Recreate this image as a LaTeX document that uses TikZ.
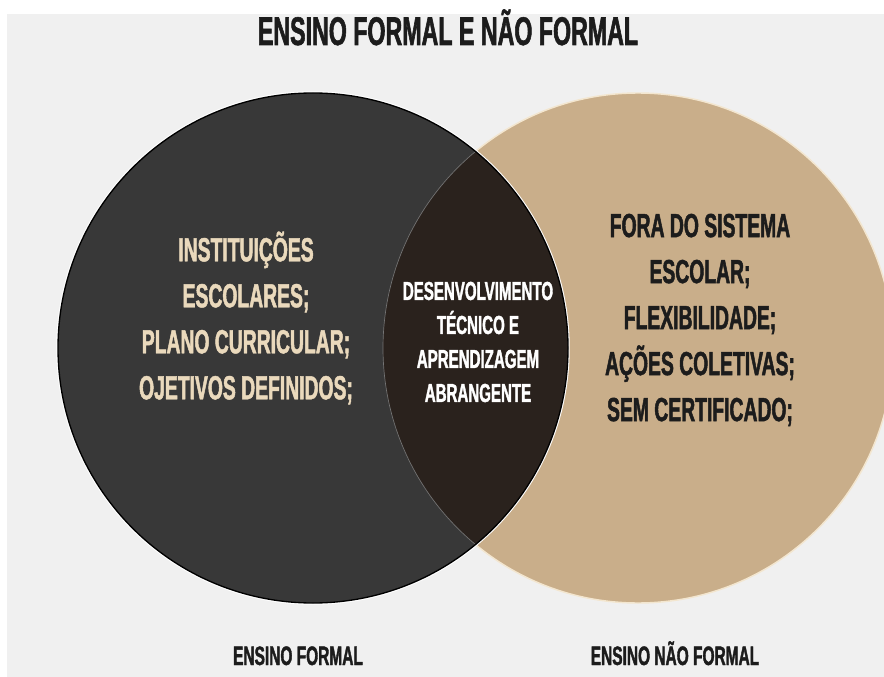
\documentclass[tikz,border=0pt]{standalone}
\usepackage{fontspec}
\newfontfamily\condsans[FakeStretch=0.58,BoldFeatures={FakeBold=1.4}]{Liberation Sans}
\usepackage{xcolor}
\definecolor{pagegray}{HTML}{F0F0F0}
\definecolor{charcoal}{HTML}{383838}
\definecolor{sand}{HTML}{C9AE8A}
\definecolor{umber}{HTML}{2A221D}
\definecolor{cream}{HTML}{EAD9BC}
\definecolor{ink}{HTML}{1C1C1C}
\definecolor{rimsand}{HTML}{F3E6CF}
\usepackage{tikz}
\tikzset{
  setlbl/.style  ={font=\condsans\bfseries\fontsize{25}{34.5}\selectfont,
                   align=center,inner sep=0pt},
  midlbl/.style  ={font=\condsans\bfseries\fontsize{19.5}{25.5}\selectfont,
                   align=center,inner sep=0pt,text=white},
  caption/.style ={font=\condsans\bfseries\fontsize{20}{22}\selectfont,
                   text=ink,inner sep=0pt,anchor=base},
  headline/.style={font=\condsans\bfseries\fontsize{30}{32}\selectfont,
                   text=ink,inner sep=0pt,anchor=base},
}

\begin{document}
\begin{tikzpicture}[x=0.75pt,y=-0.75pt]
\useasboundingbox (0,0) rectangle (884,677);
\clip (0,0) rectangle (884,677);
\fill[white] (0,0) rectangle (884,677);
\fill[pagegray] (7,14) rectangle (884,677);

%================= the two sets
\coordinate (cf) at (313,348);
\coordinate (cn) at (638,348);
\fill[sand] (cn) circle[radius=191.25pt];
\draw[rimsand,line width=1.1pt] (cn) circle[radius=191.25pt];
\draw[white,line width=2.6pt] (cf) circle[radius=191.25pt];
\fill[charcoal] (cf) circle[radius=191.25pt];
% overlap
\begin{scope}
  \clip (cn) circle[radius=191.25pt];
  \fill[umber] (cf) circle[radius=191.25pt];
\end{scope}
\begin{scope}
  \clip (cf) circle[radius=191.25pt];
  \draw[charcoal!70!white,line width=0.5pt] (cn) circle[radius=191.25pt];
\end{scope}
\draw[black,line width=1pt] (cf) circle[radius=191.25pt];

%================= texts
\node[headline] (title) at (448,45) {ENSINO FORMAL E NÃO FORMAL};
\node[setlbl,text=cream] (formaltxt) at (246,318)
  {INSTITUIÇÕES\\ESCOLARES;\\PLANO CURRICULAR;\\OJETIVOS DEFINIDOS;};
\node[midlbl] (bothtxt) at (478,342)
  {DESENVOLVIMENTO\\TÉCNICO E\\APRENDIZAGEM\\ABRANGENTE};
\node[setlbl,text=ink] (nonformaltxt) at (700,320)
  {FORA DO SISTEMA\\ESCOLAR;\\FLEXIBILIDADE;\\AÇÕES COLETIVAS;\\SEM CERTIFICADO;};

%================= captions
\node[caption] (formal) at (298,665) {ENSINO FORMAL};
\node[caption] (nonformal) at (675,665) {ENSINO NÃO FORMAL};
\end{tikzpicture}
\end{document}
